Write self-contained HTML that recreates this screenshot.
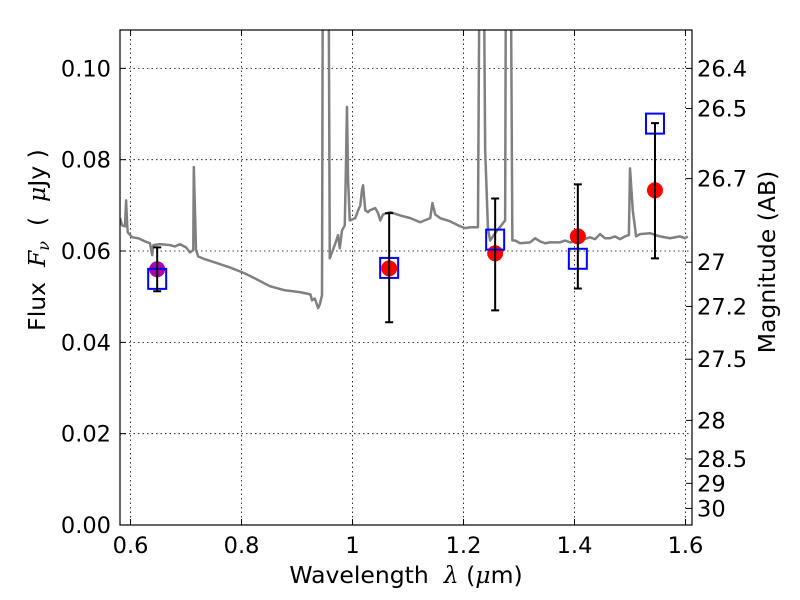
<!DOCTYPE html>
<html><head><meta charset="utf-8"><style>
html,body{margin:0;padding:0;background:#fff;}
svg{display:block;font-family:"DejaVu Sans","Liberation Sans",sans-serif;}
</style></head><body>
<svg id="chart" width="800" height="600" viewBox="0 0 800 600" xmlns="http://www.w3.org/2000/svg">
<defs><clipPath id="clip"><rect x="120" y="30" width="572" height="495"/></clipPath></defs>
<g id="grid"></g>
<g id="spec" clip-path="url(#clip)"></g>
<g id="marks"></g>
<rect x="120" y="30" width="572" height="495" fill="none" stroke="#000" stroke-width="1.2"/>
<g id="axes"></g>
<text x="406" y="583" font-size="23.5" text-anchor="middle" xml:space="preserve">Wavelength  <tspan font-family="DejaVu Serif,serif" font-style="italic">λ</tspan> (<tspan font-family="DejaVu Serif,serif" font-style="italic">μ</tspan>m)</text>
<text transform="translate(45,240) rotate(-90)" font-size="23.5" text-anchor="middle" xml:space="preserve">Flux  <tspan font-family="DejaVu Serif,serif" font-style="italic">F<tspan font-size="16" dy="4">ν</tspan></tspan><tspan dy="-4">  (  </tspan><tspan font-family="DejaVu Serif,serif" font-style="italic">μ</tspan>Jy )</text>
<text transform="translate(775,262) rotate(-90)" font-size="23.5" text-anchor="middle">Magnitude (AB)</text>
</svg>
<script>
const xTicks=[0.6,0.8,1.0,1.2,1.4,1.6];
const xTickLabels=["0.6","0.8","1","1.2","1.4","1.6"];
const yTicks=[0,0.02,0.04,0.06,0.08,0.10];
const yTickLabels=["0.00","0.02","0.04","0.06","0.08","0.10"];
const magTicks=[26.4,26.5,26.7,27,27.2,27.5,28,28.5,29,30];
const magTickLabels=["26.4","26.5","26.7","27","27.2","27.5","28","28.5","29","30"];
const specWave=[0.581,0.585,0.590,0.592,0.594,0.595,0.603,0.614,0.626,0.635,0.639,0.641,0.653,0.671,0.680,0.689,0.700,0.707,0.713,0.714,0.718,0.722,0.734,0.752,0.779,0.806,0.824,0.851,0.878,0.905,0.924,0.927,0.932,0.938,0.941,0.945,0.947,0.956,0.959,0.968,0.974,0.977,0.981,0.986,0.988,0.990,0.992,0.995,1.005,1.010,1.014,1.017,1.019,1.023,1.028,1.031,1.041,1.046,1.050,1.055,1.068,1.086,1.104,1.122,1.140,1.144,1.149,1.158,1.176,1.194,1.203,1.212,1.226,1.230,1.235,1.239,1.244,1.248,1.257,1.275,1.277,1.284,1.288,1.293,1.302,1.320,1.329,1.338,1.347,1.356,1.374,1.383,1.392,1.410,1.428,1.437,1.446,1.455,1.464,1.473,1.482,1.491,1.498,1.500,1.505,1.511,1.518,1.536,1.554,1.572,1.590,1.599,1.604];
const specFlux=[.0672,.0656,.0654,.0711,.0656,.0641,.0630,.0628,.0621,.0617,.0591,.0613,.0615,.0613,.0610,.0615,.0608,.0597,.0602,.0784,.0602,.0588,.0582,.0575,.0564,.0551,.0540,.0523,.0514,.0510,.0505,.0492,.0496,.0475,.0483,.0503,.15,.15,.0584,.0613,.0635,.0606,.0645,.0656,.0777,.0916,.0755,.0667,.0672,.0689,.0700,.0733,.0744,.0689,.0685,.0689,.0694,.0683,.0667,.0680,.0685,.0678,.0672,.0663,.0672,.0705,.0680,.0672,.0665,.0654,.0650,.0652,.0652,.15,.15,.0821,.0650,.0623,.0639,.0667,.15,.15,.0623,.0623,.0617,.0619,.0628,.0621,.0617,.0619,.0619,.0623,.0619,.0623,.0630,.0626,.0637,.0628,.0628,.0632,.0626,.0632,.0635,.0781,.0689,.0632,.0637,.0639,.0632,.0628,.0632,.0628,.0632];
const photWave=[0.648,1.066,1.257,1.406,1.545];
const photFlux=[0.0560,0.0562,0.0595,0.0632,0.0733];
const photHi=[0.0608,0.0683,0.0715,0.0746,0.0880];
const photLo=[0.0512,0.0444,0.0470,0.0518,0.0584];
const modelFlux=[0.0539,0.0563,0.0625,0.0583,0.0879];
const photColors=["#aa00aa","red","red","red","red"];

const NS="http://www.w3.org/2000/svg";
const X0=0.581,X1=1.6117,Y0=0,Y1=0.1084;
const px=v=>120+(v-X0)/(X1-X0)*572;
const py=v=>525-(v-Y0)/(Y1-Y0)*495;
const magToFlux=m=>Math.pow(10,(23.9-m)/2.5);
function mk(tag,attrs,parent){const e=document.createElementNS(NS,tag);for(const k in attrs)e.setAttribute(k,attrs[k]);parent.appendChild(e);return e;}
const grid=document.getElementById('grid'),axes=document.getElementById('axes'),spec=document.getElementById('spec'),marks=document.getElementById('marks');
xTicks.forEach((t,i)=>{
  const x=px(t);
  const g=mk('line',{x1:x,x2:x,y1:30,y2:525,stroke:'#000','stroke-width':0.8,'stroke-dasharray':'1.5,3'},grid);
  
  
  mk('line',{x1:x,x2:x,y1:525,y2:519,stroke:'#000'},axes);
  mk('line',{x1:x,x2:x,y1:30,y2:36,stroke:'#000'},axes);
  const l=mk('text',{x:x,y:553,'font-size':22.5,'text-anchor':'middle'},axes);
  l.textContent=xTickLabels[i];
  
  
});
yTicks.forEach((t,i)=>{
  const y=py(t);
  const g=mk('line',{x1:120,x2:692,y1:y,y2:y,stroke:'#000','stroke-width':0.8,'stroke-dasharray':'1.5,3'},grid);
  
  
  mk('line',{x1:120,x2:126,y1:y,y2:y,stroke:'#000'},axes);
  const l=mk('text',{x:111,y:y+8,'font-size':22.5,'text-anchor':'end'},axes);
  l.textContent=yTickLabels[i];
  
  
});
magTicks.forEach((m,i)=>{
  const y=py(magToFlux(m));
  mk('line',{x1:686,x2:692,y1:y,y2:y,stroke:'#000'},axes);
  const l=mk('text',{x:697,y:y+8,'font-size':22.5},axes);
  l.textContent=magTickLabels[i];
  
  
});
const pl=mk('polyline',{points:specWave.map((w,i)=>px(w)+','+py(specFlux[i])).join(' '),fill:'none',stroke:'#808080','stroke-width':2.5,'stroke-linejoin':'round'},spec);


photWave.forEach((w,i)=>{
  const x=px(w);
  const c=mk('circle',{cx:x,cy:py(photFlux[i]),r:8,fill:photColors[i]},marks);
  
  
  const s=mk('rect',{x:x-9,y:py(modelFlux[i])-10,width:18,height:20,fill:'none',stroke:'#0000ff','stroke-width':2},marks);
  
  
  const e=mk('path',{d:`M${x},${py(photHi[i])}V${py(photLo[i])}M${x-4},${py(photHi[i])}h8M${x-4},${py(photLo[i])}h8`,stroke:'#000','stroke-width':2,fill:'none'},marks);
  
  
});
</script>
</body></html>
